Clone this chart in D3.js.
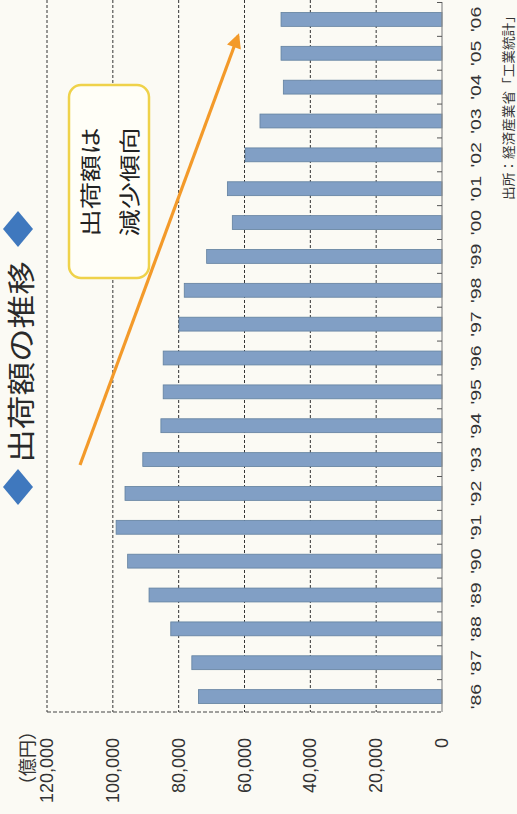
<!DOCTYPE html>
<html lang="ja">
<head>
<meta charset="utf-8">
<script src="https://cdn.jsdelivr.net/npm/d3@7"></script>
<style>
  html, body { margin: 0; padding: 0; background: #fbfaf4; }
  svg { display: block; }
</style>
</head>
<body>
<svg id="chart" width="517" height="814"></svg>
<script>
// 出荷額の推移 (億円)
const years = ["'86","'87","'88","'89","'90","'91","'92","'93","'94","'95","'96",
               "'97","'98","'99","'00","'01","'02","'03","'04","'05","'06"];
const shipments = [74000, 76000, 82400, 89000, 95500, 99000, 96300, 90900, 85400, 84700, 84700,
                   79900, 78300, 71500, 63700, 65200, 59800, 55300, 48200, 48900, 48900];
const valueTicks = [0, 20000, 40000, 60000, 80000, 100000, 120000];

const titleText = "出荷額の推移";
const unitText = "（億円）";
const noteLines = ["出荷額は", "減少傾向"];
const sourceText = "出所：経済産業省「工業統計」";

const svg = d3.select("#chart");
const jp = "'Noto Sans CJK JP', 'Noto Sans', sans-serif";
const num = "'Liberation Sans', Arial, sans-serif";
const ink = "#2b2b2b";

// The chart is laid out sideways: values grow to the left, years run upward.
const x = d3.scaleLinear().domain([0, 120000]).range([442, 47]);
const y = d3.scaleBand().domain(years).range([713, 3]).paddingInner(0.59).paddingOuter(0.28);

// rotated text helper (reads bottom-to-top)
function vtext(px, py, str, opts) {
  const o = Object.assign({size: 16, anchor: "middle", stretch: 1, family: jp, fill: ink, spacing: 0}, opts);
  return svg.append("text")
    .attr("transform", `translate(${px},${py}) rotate(-90) scale(${o.stretch},1)`)
    .attr("text-anchor", o.anchor)
    .attr("dominant-baseline", "central")
    .attr("font-family", o.family)
    .attr("font-size", o.size)
    .attr("letter-spacing", o.spacing)
    .attr("fill", o.fill)
    .text(str);
}

// gridlines
svg.append("g").selectAll("line")
  .data(valueTicks.filter(d => d > 0))
  .join("line")
  .attr("x1", d => x(d)).attr("x2", d => x(d))
  .attr("y1", 0).attr("y2", 712)
  .attr("stroke", "#333")
  .attr("stroke-width", 1)
  .attr("stroke-dasharray", "3,2");

// lower border of the plot
svg.append("line")
  .attr("x1", x(120000)).attr("x2", x(0))
  .attr("y1", 712).attr("y2", 712)
  .attr("stroke", "#444").attr("stroke-width", 1)
  .attr("stroke-dasharray", "4,2");

// bars
svg.append("g").selectAll("rect")
  .data(years.map((yr, i) => ({yr, v: shipments[i]})))
  .join("rect")
  .attr("x", d => x(d.v))
  .attr("y", d => y(d.yr))
  .attr("width", d => x(0) - x(d.v))
  .attr("height", y.bandwidth())
  .attr("fill", "#819fc5")
  .attr("stroke", "#62809f")
  .attr("stroke-width", 0.8);

// category axis line with ticks between years
svg.append("line")
  .attr("x1", x(0)).attr("x2", x(0))
  .attr("y1", 2).attr("y2", 712)
  .attr("stroke", "#8a8a8a").attr("stroke-width", 1.2);
const step = y.step();
svg.append("g").selectAll("line")
  .data(years)
  .join("line")
  .attr("x1", x(0) - 5).attr("x2", x(0))
  .attr("y1", d => y(d) - (step - y.bandwidth()) / 2)
  .attr("y2", d => y(d) - (step - y.bandwidth()) / 2)
  .attr("stroke", "#555").attr("stroke-width", 1);

// year labels
years.forEach(yr => {
  vtext(476, y(yr) + y.bandwidth() / 2, yr, {size: 15, stretch: 1.3, family: num, fill: "#333"});
});

// value labels
valueTicks.forEach(v => {
  vtext(x(v), 738, d3.format(",")(v), {size: 18, anchor: "end", family: num, fill: "#333"});
});
vtext(26, 722, unitText, {size: 18, anchor: "end", fill: "#333"});

// title with blue diamonds
const diamond = (cx, cy) => `M${cx},${cy - 18}L${cx + 15},${cy}L${cx},${cy + 18}L${cx - 15},${cy}Z`;
svg.append("path").attr("d", diamond(18, 229)).attr("fill", "#3f78be");
svg.append("path").attr("d", diamond(18, 487)).attr("fill", "#3f78be");
vtext(20, 362, titleText, {size: 28, stretch: 1.2, fill: "#2a2a2a"});

// trend arrow
const defs = svg.append("defs");
defs.append("marker")
  .attr("id", "head")
  .attr("viewBox", "0 0 10 10")
  .attr("refX", 8).attr("refY", 5)
  .attr("markerWidth", 5).attr("markerHeight", 4.6)
  .attr("orient", "auto")
  .append("path").attr("d", "M0,0L10,5L0,10Z").attr("fill", "#f39a2a");
svg.append("line")
  .attr("x1", 80).attr("y1", 465)
  .attr("x2", 238).attr("y2", 36)
  .attr("stroke", "#f39a2a")
  .attr("stroke-width", 3.2)
  .attr("marker-end", "url(#head)");

// note box
svg.append("rect")
  .attr("x", 69).attr("y", 85)
  .attr("width", 80).attr("height", 193)
  .attr("rx", 12)
  .attr("fill", "#fffef7")
  .attr("stroke", "#efd24a")
  .attr("stroke-width", 2.5);
vtext(89, 182, noteLines[0], {size: 21, stretch: 1.3, fill: "#222"});
vtext(128, 182, noteLines[1], {size: 21, stretch: 1.3, fill: "#222"});

// source
vtext(508, 200, sourceText, {size: 13, anchor: "start", stretch: 1.05, fill: "#333"});
</script>
</body>
</html>
